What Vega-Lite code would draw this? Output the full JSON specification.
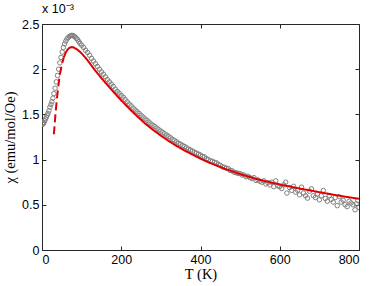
{
  "$schema": "https://vega.github.io/schema/vega-lite/v6.json",
  "width": 317,
  "height": 226,
  "autosize": {"type": "none"},
  "padding": {"left": 42, "top": 24, "right": 15, "bottom": 36},
  "background": "white",
  "config": {
    "font": "Liberation Sans",
    "view": {"stroke": null},
    "axis": {
      "grid": false,
      "domainColor": "#262626",
      "domainWidth": 1,
      "tickColor": "#262626",
      "tickSize": -4,
      "tickWidth": 1,
      "labelFont": "Liberation Sans",
      "labelFontSize": 12.5,
      "labelColor": "#000",
      "labelPadding": 7,
      "titleFont": "Liberation Serif",
      "titleFontSize": 14.5,
      "titleFontWeight": "normal",
      "titleColor": "#000"
    }
  },
  "title": {
    "text": "x 10⁻³",
    "anchor": "start",
    "frame": "group",
    "fontSize": 12.5,
    "fontWeight": "normal",
    "font": "Liberation Sans",
    "color": "#000",
    "offset": 3
  },
  "datasets": {
    "pts": [
      {"T": 2, "chi": 1.39}, {"T": 3.5, "chi": 1.4}, {"T": 5, "chi": 1.41}, {"T": 7, "chi": 1.43},
      {"T": 9, "chi": 1.45}, {"T": 11, "chi": 1.47}, {"T": 13, "chi": 1.49}, {"T": 15, "chi": 1.51},
      {"T": 17.5, "chi": 1.54}, {"T": 20, "chi": 1.58}, {"T": 22.5, "chi": 1.61}, {"T": 25, "chi": 1.64},
      {"T": 27.5, "chi": 1.68}, {"T": 30, "chi": 1.73}, {"T": 33, "chi": 1.79}, {"T": 36, "chi": 1.86},
      {"T": 39, "chi": 1.93}, {"T": 42, "chi": 2.0}, {"T": 45, "chi": 2.07}, {"T": 48, "chi": 2.13},
      {"T": 51, "chi": 2.19}, {"T": 54, "chi": 2.24}, {"T": 57, "chi": 2.28}, {"T": 60, "chi": 2.31},
      {"T": 63, "chi": 2.335}, {"T": 66, "chi": 2.35}, {"T": 69, "chi": 2.362}, {"T": 72, "chi": 2.37},
      {"T": 75, "chi": 2.375}, {"T": 78, "chi": 2.372}, {"T": 81, "chi": 2.365}, {"T": 84, "chi": 2.355},
      {"T": 87, "chi": 2.34}, {"T": 90, "chi": 2.325}, {"T": 93, "chi": 2.305}, {"T": 96, "chi": 2.285},
      {"T": 100, "chi": 2.265}, {"T": 105, "chi": 2.24}, {"T": 110, "chi": 2.21}, {"T": 115, "chi": 2.185},
      {"T": 120, "chi": 2.155}, {"T": 125, "chi": 2.12}, {"T": 130, "chi": 2.09}, {"T": 135, "chi": 2.06},
      {"T": 140, "chi": 2.03}, {"T": 145, "chi": 2.0}, {"T": 150, "chi": 1.97}, {"T": 155, "chi": 1.945},
      {"T": 160, "chi": 1.915}, {"T": 165, "chi": 1.885}, {"T": 170, "chi": 1.86}, {"T": 175, "chi": 1.835},
      {"T": 180, "chi": 1.81}, {"T": 185, "chi": 1.78}, {"T": 190, "chi": 1.755}, {"T": 195, "chi": 1.735},
      {"T": 200, "chi": 1.71}, {"T": 205, "chi": 1.69}, {"T": 210, "chi": 1.665}, {"T": 215, "chi": 1.64},
      {"T": 220, "chi": 1.615}, {"T": 225, "chi": 1.595}, {"T": 230, "chi": 1.57}, {"T": 235, "chi": 1.55},
      {"T": 240, "chi": 1.53}, {"T": 245, "chi": 1.51}, {"T": 250, "chi": 1.49}, {"T": 255, "chi": 1.47},
      {"T": 260, "chi": 1.45}, {"T": 265, "chi": 1.435}, {"T": 270, "chi": 1.415}, {"T": 275, "chi": 1.395},
      {"T": 280, "chi": 1.38}, {"T": 285, "chi": 1.365}, {"T": 290, "chi": 1.347}, {"T": 295, "chi": 1.33},
      {"T": 300, "chi": 1.315}, {"T": 305, "chi": 1.3}, {"T": 310, "chi": 1.285}, {"T": 315, "chi": 1.27},
      {"T": 320, "chi": 1.255}, {"T": 325, "chi": 1.24}, {"T": 330, "chi": 1.222}, {"T": 335, "chi": 1.21},
      {"T": 340, "chi": 1.195}, {"T": 345, "chi": 1.18}, {"T": 350, "chi": 1.17}, {"T": 355, "chi": 1.155},
      {"T": 360, "chi": 1.145}, {"T": 365, "chi": 1.13}, {"T": 370, "chi": 1.117}, {"T": 375, "chi": 1.105},
      {"T": 380, "chi": 1.095}, {"T": 385, "chi": 1.08}, {"T": 390, "chi": 1.072}, {"T": 395, "chi": 1.06},
      {"T": 400, "chi": 1.05}, {"T": 405, "chi": 1.035}, {"T": 410, "chi": 1.03}, {"T": 415, "chi": 1.01},
      {"T": 420, "chi": 1.0}, {"T": 425, "chi": 0.985}, {"T": 430, "chi": 0.982}, {"T": 435, "chi": 0.97},
      {"T": 440, "chi": 0.965}, {"T": 445, "chi": 0.945}, {"T": 450, "chi": 0.937}, {"T": 455, "chi": 0.92},
      {"T": 460, "chi": 0.915}, {"T": 465, "chi": 0.905}, {"T": 470, "chi": 0.9}, {"T": 475, "chi": 0.88},
      {"T": 480, "chi": 0.875}, {"T": 485, "chi": 0.86}, {"T": 490, "chi": 0.855}, {"T": 495, "chi": 0.848},
      {"T": 500, "chi": 0.845}, {"T": 505, "chi": 0.83}, {"T": 510, "chi": 0.83}, {"T": 515, "chi": 0.81},
      {"T": 520, "chi": 0.815}, {"T": 525, "chi": 0.8}, {"T": 530, "chi": 0.79}, {"T": 535, "chi": 0.8},
      {"T": 540, "chi": 0.77}, {"T": 545, "chi": 0.775}, {"T": 550, "chi": 0.76}, {"T": 555, "chi": 0.75},
      {"T": 560, "chi": 0.765}, {"T": 565, "chi": 0.73}, {"T": 570, "chi": 0.745}, {"T": 575, "chi": 0.72},
      {"T": 580, "chi": 0.75}, {"T": 585, "chi": 0.7}, {"T": 590, "chi": 0.765}, {"T": 595, "chi": 0.71},
      {"T": 600, "chi": 0.7}, {"T": 605, "chi": 0.68}, {"T": 610, "chi": 0.72}, {"T": 615, "chi": 0.75},
      {"T": 618, "chi": 0.63}, {"T": 625, "chi": 0.69}, {"T": 630, "chi": 0.66}, {"T": 635, "chi": 0.705},
      {"T": 640, "chi": 0.64}, {"T": 645, "chi": 0.66}, {"T": 650, "chi": 0.61}, {"T": 655, "chi": 0.695},
      {"T": 660, "chi": 0.63}, {"T": 665, "chi": 0.6}, {"T": 670, "chi": 0.574}, {"T": 675, "chi": 0.65},
      {"T": 680, "chi": 0.677}, {"T": 685, "chi": 0.6}, {"T": 690, "chi": 0.58}, {"T": 695, "chi": 0.62},
      {"T": 700, "chi": 0.555}, {"T": 705, "chi": 0.6}, {"T": 710, "chi": 0.658}, {"T": 715, "chi": 0.57},
      {"T": 720, "chi": 0.54}, {"T": 725, "chi": 0.6}, {"T": 730, "chi": 0.56}, {"T": 735, "chi": 0.53},
      {"T": 740, "chi": 0.58}, {"T": 745, "chi": 0.49}, {"T": 750, "chi": 0.59}, {"T": 755, "chi": 0.53},
      {"T": 760, "chi": 0.55}, {"T": 765, "chi": 0.5}, {"T": 770, "chi": 0.48}, {"T": 775, "chi": 0.54},
      {"T": 780, "chi": 0.52}, {"T": 785, "chi": 0.5}, {"T": 790, "chi": 0.445}, {"T": 793, "chi": 0.51},
      {"T": 797, "chi": 0.55}, {"T": 800, "chi": 0.47}
    ],
    "fit": [
      {"T": 30, "chi": 1.28, "part": "dashed"}, {"T": 33, "chi": 1.45, "part": "dashed"},
      {"T": 36, "chi": 1.6, "part": "dashed"}, {"T": 40, "chi": 1.77, "part": "dashed"},
      {"T": 45, "chi": 1.94, "part": "dashed"}, {"T": 50, "chi": 2.05, "part": "dashed"},
      {"T": 55, "chi": 2.13, "part": "dashed"},
      {"T": 55, "chi": 2.13, "part": "solid"}, {"T": 60, "chi": 2.185, "part": "solid"},
      {"T": 65, "chi": 2.22, "part": "solid"}, {"T": 70, "chi": 2.238, "part": "solid"},
      {"T": 75, "chi": 2.245, "part": "solid"}, {"T": 80, "chi": 2.24, "part": "solid"},
      {"T": 90, "chi": 2.215, "part": "solid"}, {"T": 100, "chi": 2.175, "part": "solid"},
      {"T": 110, "chi": 2.125, "part": "solid"}, {"T": 120, "chi": 2.07, "part": "solid"},
      {"T": 130, "chi": 2.01, "part": "solid"}, {"T": 140, "chi": 1.955, "part": "solid"},
      {"T": 160, "chi": 1.85, "part": "solid"}, {"T": 180, "chi": 1.75, "part": "solid"},
      {"T": 200, "chi": 1.655, "part": "solid"}, {"T": 220, "chi": 1.565, "part": "solid"},
      {"T": 240, "chi": 1.48, "part": "solid"}, {"T": 260, "chi": 1.4, "part": "solid"},
      {"T": 280, "chi": 1.33, "part": "solid"}, {"T": 300, "chi": 1.265, "part": "solid"},
      {"T": 320, "chi": 1.205, "part": "solid"}, {"T": 340, "chi": 1.15, "part": "solid"},
      {"T": 360, "chi": 1.1, "part": "solid"}, {"T": 380, "chi": 1.055, "part": "solid"},
      {"T": 400, "chi": 1.01, "part": "solid"}, {"T": 420, "chi": 0.97, "part": "solid"},
      {"T": 440, "chi": 0.935, "part": "solid"}, {"T": 460, "chi": 0.9, "part": "solid"},
      {"T": 480, "chi": 0.87, "part": "solid"}, {"T": 500, "chi": 0.84, "part": "solid"},
      {"T": 530, "chi": 0.8, "part": "solid"}, {"T": 560, "chi": 0.765, "part": "solid"},
      {"T": 600, "chi": 0.725, "part": "solid"}, {"T": 650, "chi": 0.68, "part": "solid"},
      {"T": 700, "chi": 0.64, "part": "solid"}, {"T": 750, "chi": 0.6, "part": "solid"},
      {"T": 800, "chi": 0.566, "part": "solid"}
    ]
  },
  "layer": [
    {
      "data": {"name": "pts"},
      "mark": {"type": "point", "shape": "circle", "filled": false, "stroke": "#808080", "strokeWidth": 1, "size": 20, "opacity": 1, "clip": true},
      "encoding": {
        "x": {
          "field": "T", "type": "quantitative",
          "scale": {"domain": [0, 800], "nice": false, "zero": false},
          "axis": {"orient": "bottom", "values": [0, 200, 400, 600, 800], "title": "T (K)", "titlePadding": 2}
        },
        "y": {
          "field": "chi", "type": "quantitative",
          "scale": {"domain": [0, 2.5], "nice": false, "zero": false},
          "axis": {"orient": "left", "values": [0, 0.5, 1, 1.5, 2, 2.5], "format": "~g", "title": "χ (emu/mol/Oe)", "titlePadding": 4}
        }
      }
    },
    {
      "data": {"name": "fit"},
      "mark": {"type": "line", "color": "#e00000", "strokeWidth": 2, "clip": true},
      "encoding": {
        "x": {
          "field": "T", "type": "quantitative",
          "axis": {"orient": "top", "values": [0, 200, 400, 600, 800], "labels": false, "title": null}
        },
        "y": {
          "field": "chi", "type": "quantitative",
          "axis": {"orient": "right", "values": [0, 0.5, 1, 1.5, 2, 2.5], "labels": false, "title": null}
        },
        "strokeDash": {
          "field": "part", "type": "nominal",
          "scale": {"domain": ["solid", "dashed"], "range": [[1, 0], [8, 4]]},
          "legend": null
        }
      }
    }
  ],
  "resolve": {"axis": {"x": "independent", "y": "independent"}}
}
